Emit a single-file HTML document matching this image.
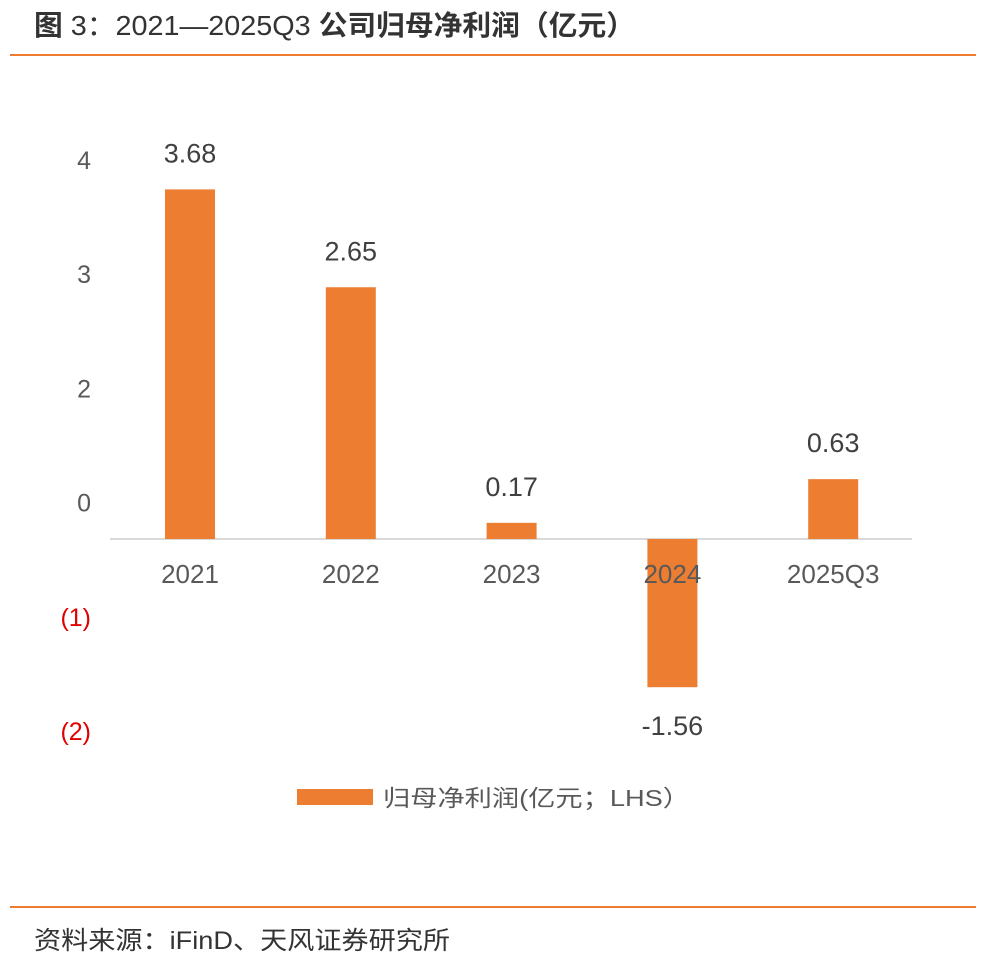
<!DOCTYPE html>
<html><head><meta charset="utf-8">
<style>
html,body{margin:0;padding:0;background:#fff;}
body{width:988px;height:960px;overflow:hidden;font-family:"Liberation Sans","Noto Sans CJK SC",sans-serif;}
</style></head>
<body>
<svg id="chart" width="988" height="960" xmlns="http://www.w3.org/2000/svg" font-family="Liberation Sans, Noto Sans CJK SC, sans-serif">
  <text x="34" y="35" font-size="28" fill="#333" textLength="601" lengthAdjust="spacingAndGlyphs"><tspan font-weight="bold">图</tspan> 3：2021—2025Q3 <tspan font-weight="bold">公司归母净利润（亿元）</tspan></text>
  <rect x="10" y="54" width="966" height="2" fill="#ED7D31"/>
  <line x1="110" y1="539" x2="912" y2="539" stroke="#d9d9d9" stroke-width="2"/>
  <g id="bars"></g>
  <g id="ylabels"></g>
  <rect x="297" y="789" width="76" height="16" fill="#ED7D31"/>
  <text x="383" y="806" font-size="23" fill="#595959" textLength="307" lengthAdjust="spacingAndGlyphs">归母净利润(亿元；LHS）</text>
  <rect x="10" y="906" width="966" height="2" fill="#ED7D31"/>
  <text x="34" y="949" font-size="25" fill="#333" textLength="416" lengthAdjust="spacingAndGlyphs">资料来源：iFinD、天风证券研究所</text>
</svg>
<script>
const categories = ["2021","2022","2023","2024","2025Q3"];
const values = [3.68, 2.65, 0.17, -1.56, 0.63];
const valueLabels = ["3.68","2.65","0.17","-1.56","0.63"];
const tickLabels = ["4","3","2","0","(1)","(2)"];
const tickColors = ["#595959","#595959","#595959","#595959","#E00000","#E00000"];

const NS = "http://www.w3.org/2000/svg";
const zeroY = 539, pxPerUnit = 95;
function yScale(v){ return zeroY - v * pxPerUnit; }
function xCenter(i){ return 190 + i * 160.8; }
function tickY(i){ return 160 + i * 114.2; }
const barW = 50;
const gb = document.getElementById('bars');
categories.forEach((c,i)=>{
  const v = values[i];
  const y0 = Math.min(yScale(v), zeroY), h = Math.abs(yScale(v) - zeroY);
  const r = document.createElementNS(NS,'rect');
  
  
  r.setAttribute('x', xCenter(i) - barW/2); r.setAttribute('y', y0);
  r.setAttribute('width', barW); r.setAttribute('height', h);
  r.setAttribute('fill', '#ED7D31');
  gb.appendChild(r);
  const t = document.createElementNS(NS,'text');
  
  
  t.setAttribute('x', xCenter(i)); t.setAttribute('text-anchor','middle');
  t.setAttribute('font-size','27'); t.setAttribute('fill','#404040');
  t.setAttribute('y', v >= 0 ? yScale(v) - 27 : yScale(v) + 48);
  t.textContent = valueLabels[i];
  gb.appendChild(t);
  const cl = document.createElementNS(NS,'text');
  
  
  cl.setAttribute('x', xCenter(i)); cl.setAttribute('y', 583);
  cl.setAttribute('text-anchor','middle'); cl.setAttribute('font-size','26'); cl.setAttribute('fill','#595959');
  cl.textContent = c;
  gb.appendChild(cl);
});
const gy = document.getElementById('ylabels');
tickLabels.forEach((l,i)=>{
  const t = document.createElementNS(NS,'text');
  
  
  t.setAttribute('x', 91); t.setAttribute('y', tickY(i) + 9);
  t.setAttribute('text-anchor','end'); t.setAttribute('font-size','25');
  t.setAttribute('fill', tickColors[i]);
  t.textContent = l;
  gy.appendChild(t);
});
</script>
</body></html>
